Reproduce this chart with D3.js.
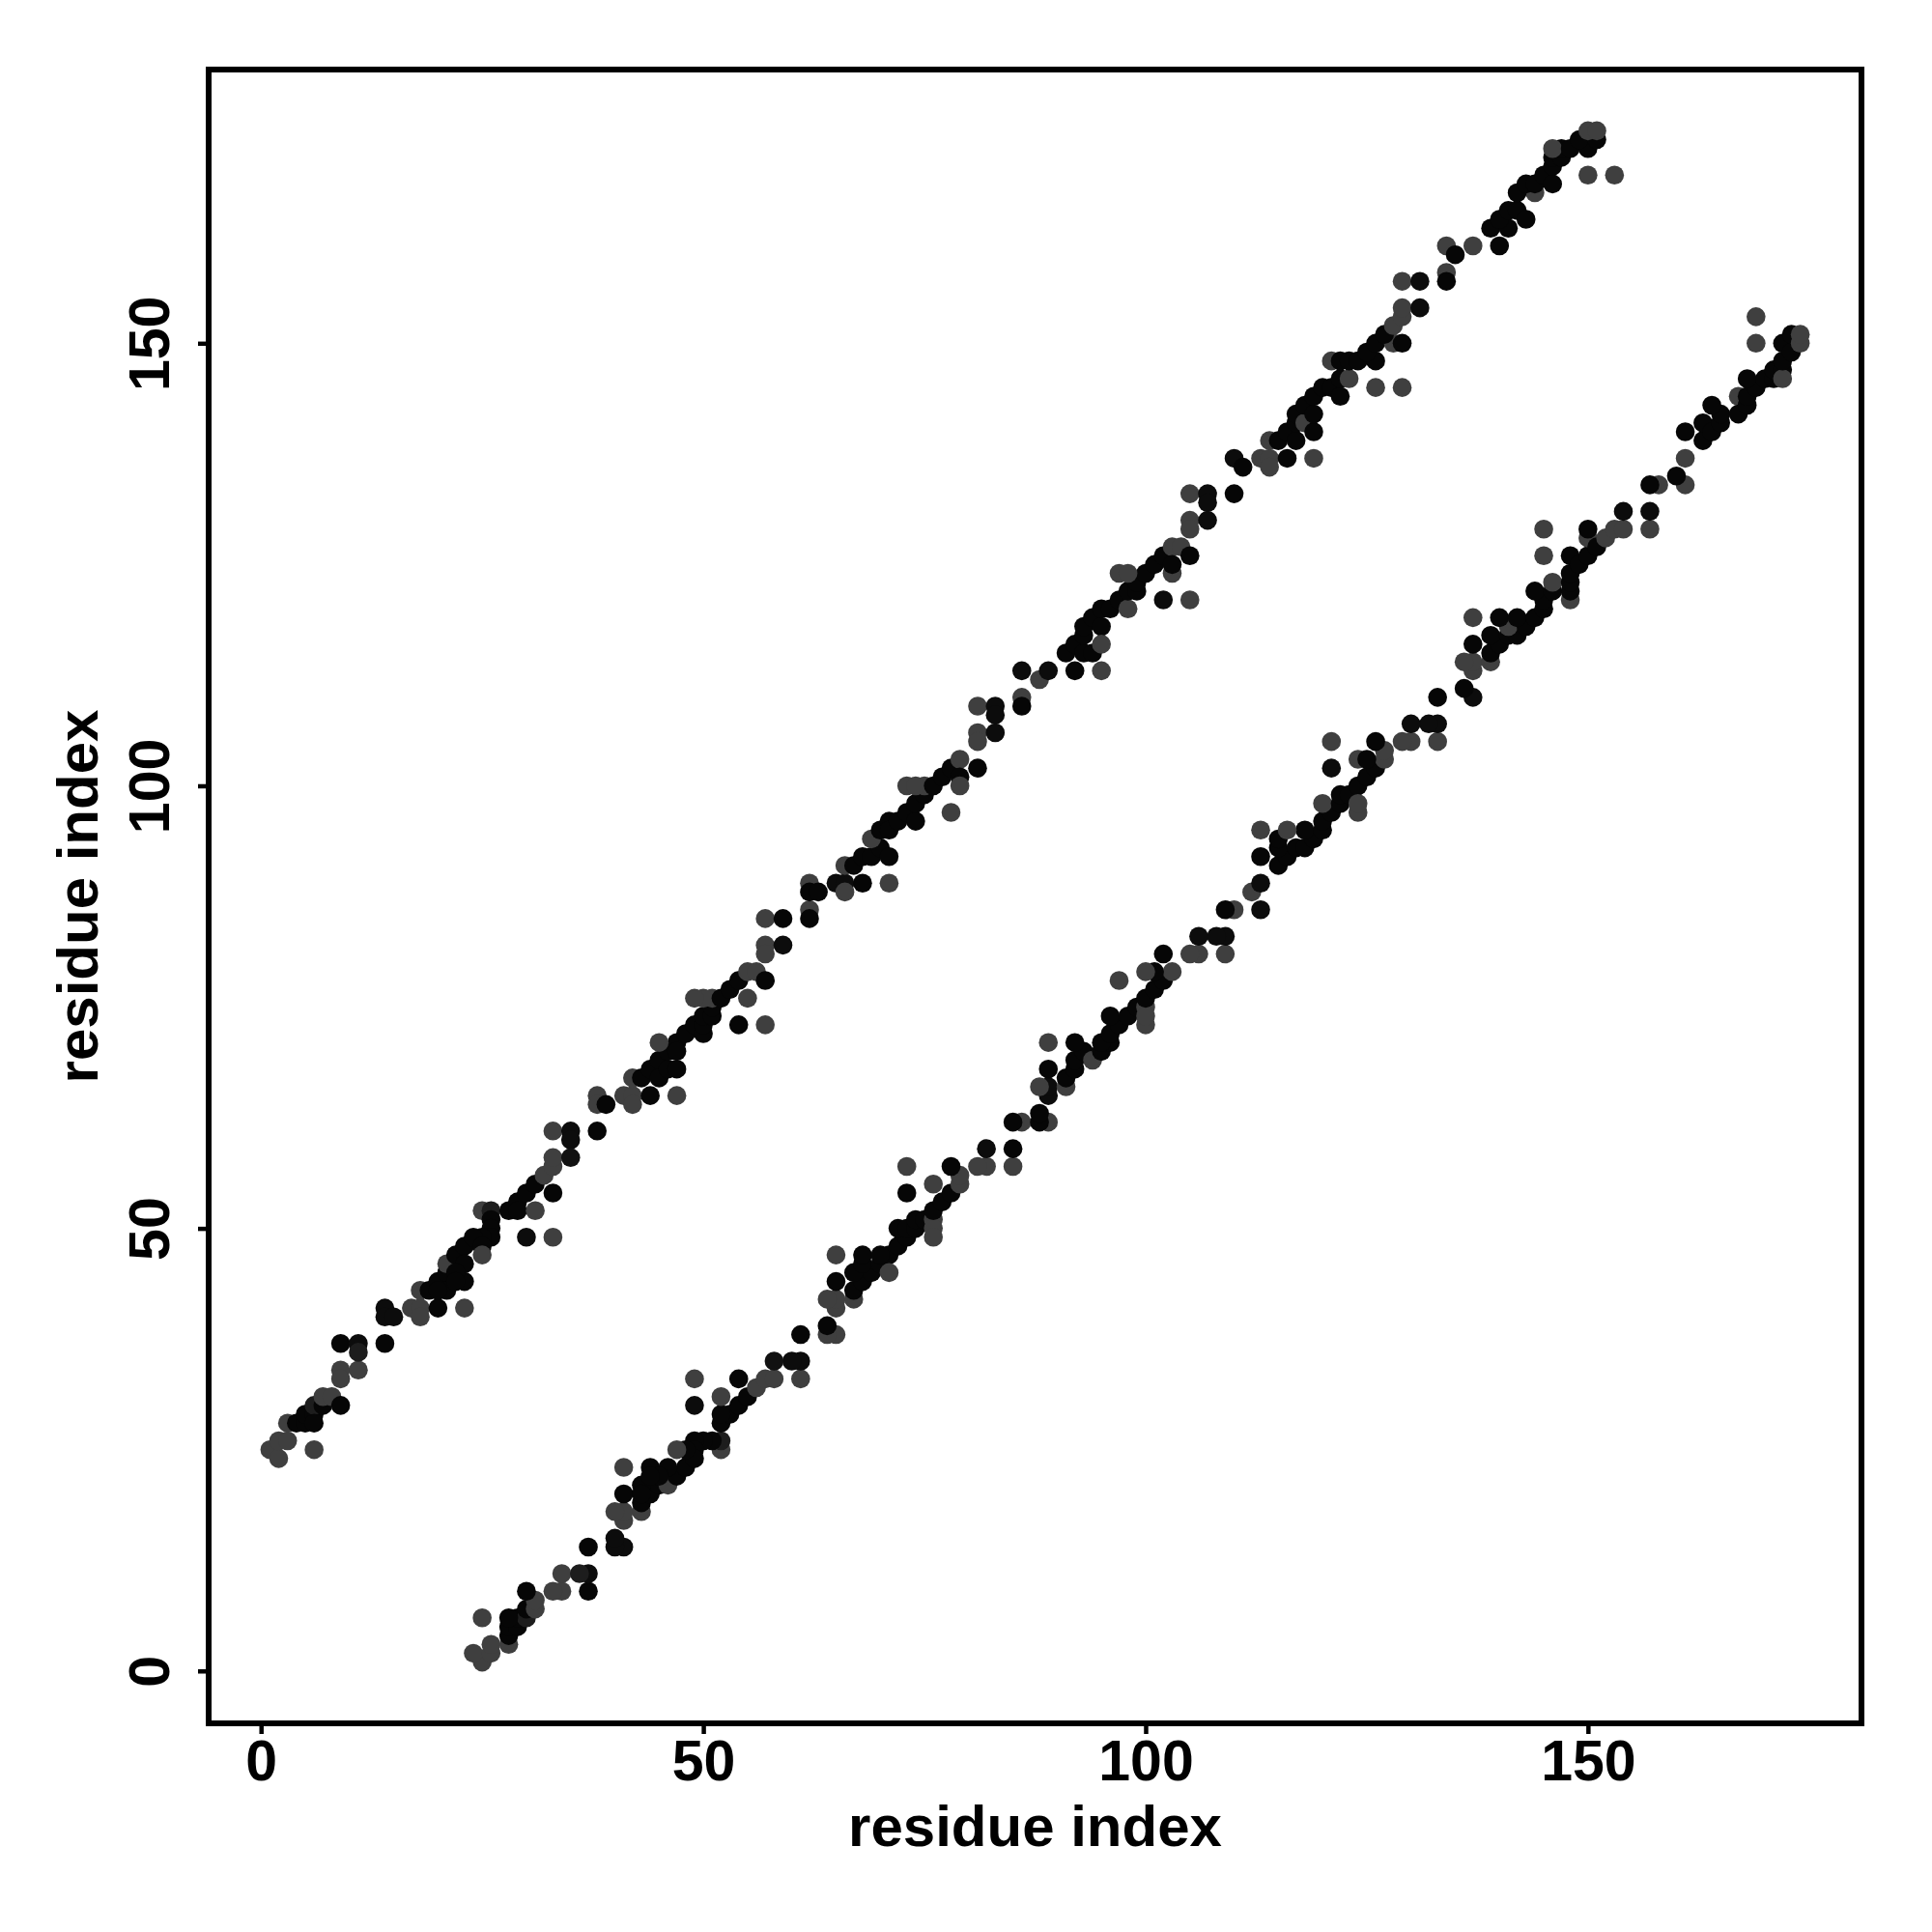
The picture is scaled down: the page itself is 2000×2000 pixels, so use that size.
<!DOCTYPE html>
<html>
<head>
<meta charset="utf-8">
<script src="https://cdn.jsdelivr.net/npm/d3@7"></script>
<style>
  html, body { margin: 0; padding: 0; background: #ffffff; }
  svg { display: block; }
</style>
</head>
<body>
<svg id="chart" width="2000" height="2000"></svg>
<script>
// Contact pairs [residue i, residue j, probability]; the map is symmetric, drawn as (i,j) and (j,i)
const contactsA = [
  [1,25,0.45],[2,24,0.45],[2,26,0.45],[3,26,0.45],[6,25,0.45],[3,28,0.45],
  [4,28,0.95],[5,28,0.95],[5,29,0.95],[6,29,0.95],[6,30,0.75],[7,30,0.95],[7,31,0.45],[8,31,0.45],[6,28,0.95],
  [9,30,0.95],[9,34,0.45],[9,33,0.45],[11,34,0.45],[9,37,0.95],[11,37,0.9],[11,36,0.75],[14,37,0.95],
  [14,41,0.9],[14,40,0.9],[15,40,0.9],[17,41,0.45],[18,41,0.45],[18,40,0.45],[20,41,0.95],[23,41,0.45],
  [18,43,0.45],[19,43,0.95],[20,44,0.95],[21,45,0.95],[21,46,0.45],[22,47,0.95],[23,48,0.95],[23,46,0.95],
  [23,44,0.95],[22,45,0.95],[21,43,0.95],[22,44,0.95],[20,43,0.95],
  [25,52,0.45],[26,52,0.75],[26,51,0.95],[26,50,0.95],[26,49,0.95],[25,49,0.95],[24,49,0.95],[25,48,0.95],[25,47,0.45],
  [28,52,0.95],[29,53,0.95],[29,52,0.95],[30,54,0.95],[31,55,0.95],[31,52,0.45],[32,56,0.45],[33,57,0.45],
  [33,58,0.45],[33,54,0.95],[30,49,0.9],[33,49,0.45]
];
const contactsB = [
  [33,61,0.45],[35,61,0.9],[35,60,0.9],[35,58,0.85],[38,61,0.95],
  [38,65,0.45],[38,64,0.45],[39,64,0.95],[41,65,0.45],[42,65,0.45],[42,64,0.45],[44,65,0.95],[47,65,0.45],
  [42,67,0.45],[43,67,0.95],[44,68,0.95],[45,69,0.95],[45,67,0.95],[46,68,0.95],[47,68,0.95],[46,70,0.95],
  [47,71,0.95],[47,70,0.95],[48,72,0.95],[49,73,0.95],[50,72,0.95],[50,73,0.95],[50,74,0.95],[51,74,0.95],
  [51,75,0.95],[51,76,0.45],[50,76,0.45],[49,76,0.45],[52,76,0.95],[53,77,0.95],[54,78,0.95],[55,79,0.45],
  [56,79,0.45],[57,78,0.95],[55,76,0.45],[54,73,0.95],[57,73,0.45],[45,71,0.45],
  [57,85,0.45],[59,85,0.95],[57,82,0.45],[57,81,0.45],[59,82,0.9],
  [62,86,0.45],[62,85,0.95],[62,89,0.45],[62,88,0.95],[63,88,0.95]
];
const contactsC = [
  [65,89,0.9],[66,89,0.9],[66,88,0.45],[68,89,0.95],[71,89,0.45],
  [66,91,0.45],[67,91,0.95],[68,92,0.95],[69,92,0.95],[70,93,0.95],[69,94,0.45],[70,95,0.95],[71,96,0.95],
  [71,95,0.95],[71,92,0.95],[72,96,0.95],[73,97,0.95],[74,96,0.95],[74,98,0.95],[75,99,0.95],[75,100,0.45],
  [73,100,0.45],[74,100,0.45],[76,100,0.95],[77,101,0.95],[78,102,0.95],[79,103,0.45],[79,101,0.95],
  [79,100,0.45],[78,97,0.45],[81,102,0.95],
  [81,109,0.45],[83,109,0.9],[83,108,0.9],[81,106,0.45],[81,105,0.45],[83,106,0.9],
  [86,113,0.9],[86,110,0.45],[86,109,0.95],[88,112,0.45],[89,113,0.9],[92,113,0.95],[95,113,0.45]
];
const contactsD = [
  [91,115,0.95],[92,116,0.95],[93,115,0.95],[93,117,0.95],[93,118,0.95],[94,115,0.95],[94,119,0.95],
  [95,118,0.95],[95,120,0.95],[95,116,0.45],[96,120,0.95],[97,121,0.95],[98,120,0.45],[98,122,0.95],
  [99,122,0.95],[99,123,0.95],[100,124,0.95],[97,124,0.45],[98,124,0.45],[101,125,0.95],[102,126,0.95],
  [103,127,0.45],[104,127,0.45],[105,126,0.95],[103,124,0.45],[103,125,0.95],[102,121,0.9],[105,121,0.45],
  [105,133,0.45],[107,133,0.9],[107,132,0.9],[110,133,0.95],[105,130,0.45],[105,129,0.45],[107,130,0.9],
  [110,137,0.9],[111,136,0.95],[113,137,0.45],[114,137,0.45],[114,136,0.45],[116,137,0.95],[119,137,0.45]
];
const contactsE = [
  [114,139,0.45],[115,139,0.95],[116,140,0.95],[117,139,0.95],[117,141,0.95],[117,142,0.95],[118,141,0.45],
  [118,143,0.95],[119,140,0.95],[119,142,0.95],[119,144,0.95],[120,145,0.95],[121,145,0.95],[122,144,0.95],
  [122,146,0.95],[123,146,0.45],[121,148,0.45],[122,148,0.95],[123,148,0.95],[124,148,0.95],[126,148,0.95],
  [125,149,0.95],[126,150,0.95],[128,150,0.45],[129,150,0.95],[127,151,0.95],[128,152,0.45],[129,153,0.45],
  [129,154,0.45],[126,145,0.45],[129,145,0.45],
  [129,157,0.45],[131,157,0.9],[131,154,0.9],[134,158,0.45],[134,157,0.95],
  [134,161,0.45],[135,160,0.95],[137,161,0.45],[140,161,0.95],
  [139,163,0.95],[141,163,0.95],[140,164,0.95],[141,165,0.95],[142,165,0.95],[143,164,0.95],[144,167,0.45],
  [142,167,0.95],[143,168,0.95],[144,168,0.95],[145,169,0.95],[146,168,0.95],[146,170,0.95],[146,171,0.95],
  [147,171,0.95],[147,172,0.95],[146,172,0.45],[148,172,0.95],[150,172,0.95],[149,173,0.95],[151,173,0.95],
  [150,174,0.45],[151,174,0.45],[150,169,0.45],[153,169,0.45]
];
const xTicks = [0, 50, 100, 150];
const yTicks = [0, 50, 100, 150];
const xLabel = "residue index";
const yLabel = "residue index";

const upperPairs = [].concat(contactsA, contactsB, contactsC, contactsD, contactsE);
const points = upperPairs.map(d => ({x: d[0], y: d[1], p: d[2]}))
  .concat(upperPairs.map(d => ({x: d[1], y: d[0], p: d[2]})));

const plotL = 216, plotR = 1927, plotT = 72, plotB = 1784;
const allVals = points.map(d => d.x);
const lo = d3.min(allVals), hi = d3.max(allVals);
const pad = (hi - lo) * 0.04;
const xs = d3.scaleLinear().domain([lo - pad, hi + pad]).range([plotL, plotR]);
const ys = d3.scaleLinear().domain([lo - pad, hi + pad]).range([plotB, plotT]);
const shade = d3.scaleLinear().domain([0.4, 1]).range(["#454545", "#000000"]).clamp(true);

const svg = d3.select("#chart");
svg.append("rect").attr("width", 2000).attr("height", 2000).attr("fill", "#ffffff");

const font = "'Liberation Sans', Arial, Helvetica, sans-serif";

svg.append("g")
  .selectAll("circle")
  .data(points)
  .join("circle")
  .attr("cx", d => xs(d.x))
  .attr("cy", d => ys(d.y))
  .attr("r", 9.8)
  .attr("fill", d => shade(d.p));

// frame
svg.append("rect")
  .attr("x", plotL).attr("y", plotT)
  .attr("width", plotR - plotL).attr("height", plotB - plotT)
  .attr("fill", "none").attr("stroke", "#000").attr("stroke-width", 6);

const gx = svg.append("g").attr("transform", `translate(0,${plotB})`)
  .call(d3.axisBottom(xs).tickValues(xTicks).tickSize(11).tickPadding(6).tickFormat(d3.format("d")));
gx.select(".domain").remove();
gx.selectAll(".tick line").attr("stroke", "#000").attr("stroke-width", 4.5);
gx.selectAll(".tick text").attr("font-family", font).attr("font-size", 59)
  .attr("font-weight", "bold").attr("fill", "#000");

const gy = svg.append("g").attr("transform", `translate(${plotL},0)`)
  .call(d3.axisLeft(ys).tickValues(yTicks).tickSize(11).tickFormat(d3.format("d")));
gy.select(".domain").remove();
gy.selectAll(".tick line").attr("stroke", "#000").attr("stroke-width", 4.5);
gy.selectAll(".tick text")
  .attr("font-family", font).attr("font-size", 59).attr("font-weight", "bold").attr("fill", "#000")
  .attr("transform", "rotate(-90)")
  .attr("x", 0).attr("y", -41).attr("dy", null)
  .attr("text-anchor", "middle");

svg.append("text")
  .attr("x", (plotL + plotR) / 2).attr("y", 1911)
  .attr("text-anchor", "middle")
  .attr("font-family", font).attr("font-size", 60).attr("font-weight", "bold")
  .text(xLabel);

svg.append("text")
  .attr("transform", `translate(101,${(plotT + plotB) / 2}) rotate(-90)`)
  .attr("text-anchor", "middle")
  .attr("font-family", font).attr("font-size", 60).attr("font-weight", "bold")
  .text(yLabel);
</script>
</body>
</html>
